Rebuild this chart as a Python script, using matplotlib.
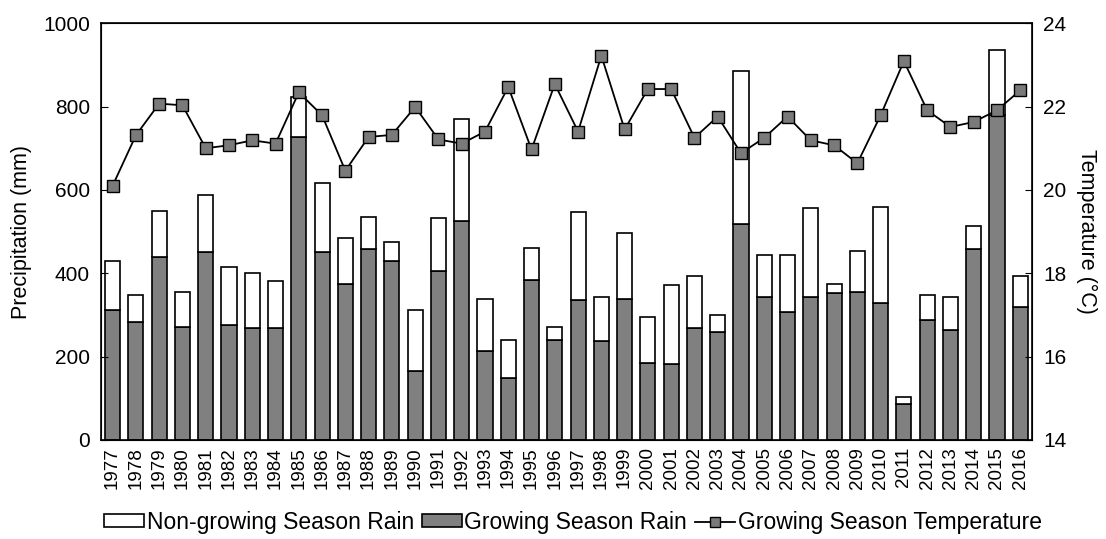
import numpy as np
import matplotlib
matplotlib.use('Agg')
from matplotlib import pyplot as plt
from matplotlib.patches import Patch
from matplotlib.lines import Line2D

plt.rcParams['font.family'] = ['Liberation Sans', 'DejaVu Sans']

YEARS = list(range(1977, 2017))
# growing season rain (mm)
GROWING = [312, 284, 439, 272, 450, 276, 269, 269, 727, 450,
           374, 458, 430, 165, 406, 526, 213, 149, 383, 241,
           336, 237, 339, 185, 182, 268, 260, 517, 344, 308,
           344, 352, 355, 328, 87, 288, 264, 459, 779, 320]
# total annual rain (mm)
TOTAL = [430, 348, 549, 355, 588, 414, 401, 382, 822, 616,
         485, 536, 474, 312, 533, 770, 339, 240, 461, 272,
         548, 344, 497, 296, 371, 394, 300, 885, 445, 445,
         556, 374, 454, 559, 102, 347, 344, 513, 935, 393]
# growing season temperature (C)
TEMP = [20.10, 21.31, 22.07, 22.03, 21.00, 21.07, 21.19, 21.11, 22.34, 21.79,
        20.46, 21.27, 21.32, 21.99, 21.21, 21.11, 21.40, 22.47, 20.97, 22.54,
        21.40, 23.22, 21.45, 22.42, 22.42, 21.25, 21.76, 20.88, 21.25, 21.76,
        21.19, 21.07, 20.64, 21.79, 23.09, 21.91, 21.51, 21.63, 21.91, 22.39]

def main():
	x = np.arange(len(YEARS))
	growing = np.array(GROWING)
	nongrowing = np.array(TOTAL) - growing

	fig = plt.figure(figsize=(11.06, 5.39), dpi=100)
	ax = fig.add_axes([0.0913, 0.1837, 0.8417, 0.7733])

	ax.bar(x, growing, width=0.65, color='#808080', edgecolor='black', linewidth=1.2)
	ax.bar(x, nongrowing, width=0.65, bottom=growing, color='white', edgecolor='black', linewidth=1.2)
	ax.set_xlim(-0.5, len(YEARS) - 0.5)
	ax.set_ylim(0, 1000)
	ax.set_yticks(range(0, 1001, 200))
	ax.set_xticks(x)
	ax.set_xticklabels([str(y) for y in YEARS], rotation=90, fontsize=13.5)
	ax.tick_params(axis='x', length=0, pad=5)
	ax.tick_params(axis='y', direction='in', length=5, labelsize=15, pad=8)
	ax.set_ylabel('Precipitation (mm)', fontsize=15.5, labelpad=8)
	for s in ax.spines.values():
		s.set_linewidth(1.2)

	ax2 = ax.twinx()
	ax2.plot(x, TEMP, color='black', linewidth=1.3, marker='s', markersize=8,
	         markerfacecolor='#7a7a7a', markeredgecolor='black', markeredgewidth=1.0)
	ax2.set_ylim(14, 24)
	ax2.set_yticks(range(14, 25, 2))
	ax2.tick_params(axis='y', direction='in', length=5, labelsize=15, pad=8)
	ax2.set_ylabel('Temperature (\u00b0C)', fontsize=15.5, rotation=270, labelpad=22)

	handles = [Patch(facecolor='white', edgecolor='black', linewidth=1.2, label='Non-growing Season Rain'),
	           Patch(facecolor='#808080', edgecolor='black', linewidth=1.2, label='Growing Season Rain'),
	           Line2D([], [], color='black', linewidth=1.3, marker='s', markersize=7,
	                  markerfacecolor='#7a7a7a', markeredgecolor='black',
	                  label='Growing Season Temperature')]
	fig.legend(handles=handles, loc='lower center', bbox_to_anchor=(0.518, -0.02), ncol=3,
	           frameon=False, fontsize=16.5, handlelength=1.75, handleheight=0.45,
	           handletextpad=0.1, columnspacing=0.35, borderpad=0.2)

	fig.savefig('out.png', dpi=100)

if __name__ == '__main__':
	main()
